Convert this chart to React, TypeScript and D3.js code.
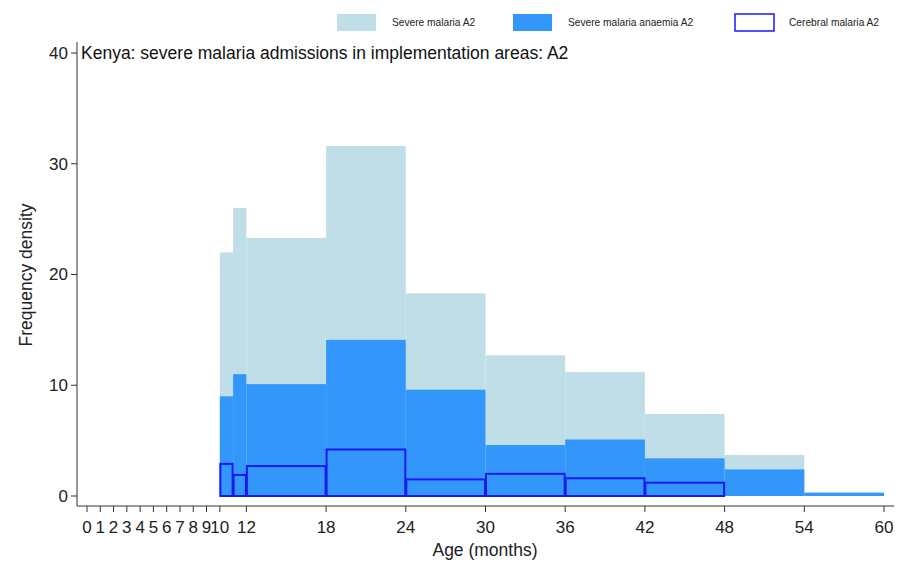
import React from "react";
import * as d3 from "d3";

const binEdges = [10, 11, 12, 18, 24, 30, 36, 42, 48, 54, 60];
const severeMalaria = [22.0, 26.0, 23.3, 31.6, 18.3, 12.7, 11.2, 7.4, 3.7, 0.3];
const severeAnaemia = [9.0, 11.0, 10.1, 14.1, 9.6, 4.6, 5.1, 3.4, 2.4, 0.3];
const cerebral = [2.9, 1.9, 2.7, 4.2, 1.5, 2.0, 1.6, 1.2, 0, 0];
const xTicks = [0, 1, 2, 3, 4, 5, 6, 7, 8, 9, 10, 12, 18, 24, 30, 36, 42, 48, 54, 60];
const yTicks = [0, 10, 20, 30, 40];
const legendLabels = ["Severe malaria A2", "Severe malaria anaemia A2", "Cerebral malaria A2"];
const title = "Kenya: severe malaria admissions in implementation areas: A2";

const LIGHT = "#c0dee8";
const DARK = "#3396fa";
const OUTLINE = "#1a1af0";
const FONT = "Liberation Sans, Arial, sans-serif";

export default function App() {
  const x = d3.scaleLinear().domain([0, 60]).range([87, 884]);
  const y = d3.scaleLinear().domain([0, 40]).range([496, 53]);
  const axisX = 77;
  const axisY = 506;

  const bars = (vals: number[]) =>
    vals.map((v, i) => ({ x0: binEdges[i], x1: binEdges[i + 1], v }));

  const legendItems = [
    { box: 337, text: 392, fill: LIGHT, stroke: "none" },
    { box: 513, text: 568, fill: DARK, stroke: "none" },
    { box: 735, text: 789, fill: "white", stroke: OUTLINE },
  ];

  return (
    <svg
      width={910}
      height={565}
      style={{ position: "absolute", left: 0, top: 0, background: "white" }}
      fontFamily={FONT}
    >
      <rect x={0} y={0} width={910} height={565} fill="white" />
      {/* Legend */}
      {legendItems.map((it, i) => (
        <g key={i}>
          <rect
            x={it.box}
            y={14}
            width={39}
            height={17}
            fill={it.fill}
            stroke={it.stroke}
            strokeWidth={it.stroke === "none" ? 0 : 1.5}
          />
          <text x={it.text} y={26} fontSize={10.2} fill="#222">
            {legendLabels[i]}
          </text>
        </g>
      ))}

      {/* Bars */}
      {bars(severeMalaria).map((b, i) => (
        <rect
          key={"l" + i}
          x={x(b.x0)}
          y={y(b.v)}
          width={x(b.x1) - x(b.x0)}
          height={y(0) - y(b.v)}
          fill={LIGHT}
        />
      ))}
      {bars(severeAnaemia).map((b, i) => (
        <rect
          key={"d" + i}
          x={x(b.x0)}
          y={y(b.v)}
          width={x(b.x1) - x(b.x0)}
          height={y(0) - y(b.v)}
          fill={DARK}
        />
      ))}
      {bars(cerebral)
        .filter((b) => b.v > 0)
        .map((b, i) => (
          <rect
            key={"c" + i}
            x={x(b.x0) + 0.5}
            y={y(b.v)}
            width={x(b.x1) - x(b.x0) - 1}
            height={y(0) - y(b.v)}
            fill="none"
            stroke={OUTLINE}
            strokeWidth={2}
          />
        ))}

      {/* Y axis */}
      <line x1={axisX} x2={axisX} y1={42} y2={axisY} stroke="#333" strokeWidth={1} />
      {yTicks.map((t) => (
        <g key={"yt" + t}>
          <line x1={axisX - 6} x2={axisX} y1={y(t)} y2={y(t)} stroke="#333" />
          <text
            x={axisX - 9}
            y={y(t)}
            dy="0.35em"
            textAnchor="end"
            fontSize={17}
            fill="#222"
          >
            {t}
          </text>
        </g>
      ))}
      <text
        transform={`translate(32,275) rotate(-90)`}
        textAnchor="middle"
        fontSize={17.5}
        fill="#222"
      >
        Frequency density
      </text>

      {/* X axis */}
      <line x1={axisX} x2={894} y1={axisY} y2={axisY} stroke="#333" strokeWidth={1} />
      {xTicks.map((t) => (
        <g key={"xt" + t}>
          <line x1={x(t)} x2={x(t)} y1={axisY} y2={axisY + 6} stroke="#333" />
          <text
            x={x(t)}
            y={axisY + 27}
            textAnchor="middle"
            fontSize={17}
            fill="#222"
          >
            {t}
          </text>
        </g>
      ))}
      <text x={485} y={556} textAnchor="middle" fontSize={17.5} fill="#222">
        Age (months)
      </text>

      {/* Title */}
      <text x={81} y={59} fontSize={17.5} fill="#111">
        {title}
      </text>
    </svg>
  );
}
